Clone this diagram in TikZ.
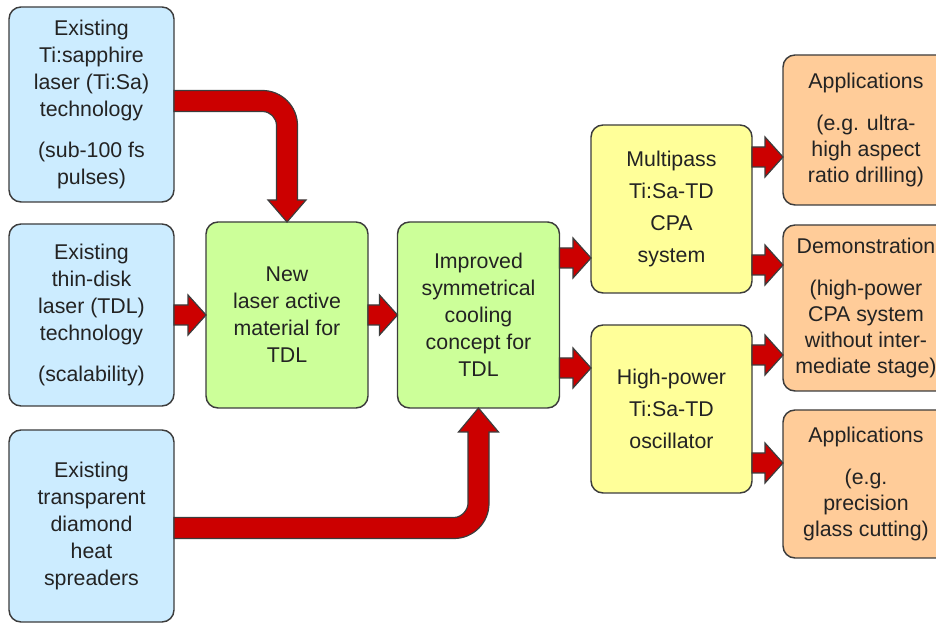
\documentclass[tikz,border=0pt]{standalone}
\usepackage{fontspec}
\setmainfont{Liberation Sans}
\usetikzlibrary{positioning, calc}

\definecolor{oldblue}{RGB}{204,236,255}
\definecolor{newgreen}{RGB}{204,255,153}
\definecolor{sysyellow}{RGB}{255,255,153}
\definecolor{useorange}{RGB}{255,204,153}
\definecolor{arrowred}{RGB}{204,0,0}
\definecolor{boxline}{RGB}{60,60,60}
\definecolor{textgray}{RGB}{35,35,35}

\tikzset{
	techbox/.style={draw=boxline, line width=1.1pt, rounded corners=9pt,
		align=center, inner sep=2pt, outer sep=0pt, text=textgray,
		font=\fontsize{16}{20.25}\selectfont},
	oldtech/.style={techbox, fill=oldblue, minimum width=123.75pt},
	newtech/.style={techbox, fill=newgreen, minimum width=121.5pt, minimum height=139.5pt},
	system/.style={techbox, fill=sysyellow, minimum width=120.75pt, minimum height=126pt,
		font=\fontsize{16}{24}\selectfont},
	usage/.style={techbox, fill=useorange, minimum width=124.5pt,
		font=\fontsize{16}{19.5}\selectfont},
	redarrow/.style={draw=boxline, fill=arrowred, line width=0.9pt, line join=miter}
}

% straight block arrow: from #1 to #2, shifted by #3 (same y on both ends)
\newcommand{\blockarrow}[3]{%
	\draw[redarrow] ($(#1 |- #2)+(0,#3-10)$) -- ($(#2)+(-18,#3-10)$)
	-- ($(#2)+(-18,#3-20)$) -- ($(#2)+(0,#3)$) -- ($(#2)+(-18,#3+20)$)
	-- ($(#2)+(-18,#3+10)$) -- ($(#1 |- #2)+(0,#3+10)$) -- cycle;}

\begin{document}
\begin{tikzpicture}[x=0.75pt, y=-0.75pt]
	\useasboundingbox (0,0) rectangle (936,623);
	
	% Existing technology
	\node[oldtech, minimum height=146.25pt] (sapphire) at (91.5,104.5)
	{Existing\\Ti:sapphire\\laser (Ti:Sa)\\technology\\[11pt](sub-100 fs\\pulses)};
	\node[oldtech, minimum height=136.5pt] (thindisk) at ($(sapphire) + (0,210.5)$)
	{Existing\\thin-disk\\laser (TDL)\\technology\\[11pt](scalability)};
	\node[oldtech, minimum height=144pt] (diamond) at ($(sapphire) + (0,421.5)$)
	{Existing\\transparent\\diamond\\heat\\spreaders};
	
	% New developments
	\node[newtech] (material) at ($(sapphire) + (195.5,210.5)$)
	{New\\laser active\\material for\\TDL};
	\node[newtech] (cooling) at ($(sapphire) + (387,210.5)$)
	{Improved\\symmetrical\\cooling\\concept for\\TDL};
	
	% Systems
	\node[system] (multipass) at ($(sapphire) + (580,104.5)$)
	{Multipass\\Ti:Sa-TD\\CPA\\system};
	\node[system] (oscillator) at ($(sapphire) + (580,304.5)$)
	{High-power\\Ti:Sa-TD\\oscillator};
	
	% Applications
	\node[usage, minimum height=112.5pt] (drilling) at ($(sapphire) + (774.5,25.5)$)
	{Applications\\[12pt](e.g. ultra-\\high aspect\\ratio drilling)};
	\node[usage, minimum height=124.5pt] (demo) at ($(sapphire) + (774.5,203.5)$)
	{Demonstration\\[12pt](high-power\\CPA system\\without inter-\\mediate stage)};
	\node[usage, minimum height=111pt] (cutting) at ($(sapphire) + (774.5,379.5)$)
	{Applications\\[12pt](e.g.\\precision\\glass cutting)};
	
	% Connections
	\draw[redarrow] ($(sapphire.east)+(0,-14)$)
	-- ($(material.north |- sapphire.east)+(-24.5,-14)$)
	.. controls ($(material.north |- sapphire.east)+(-5.25,-14)$)
	and ($(material.north |- sapphire.east)+(10.5,1.75)$)
	.. ($(material.north |- sapphire.east)+(10.5,21)$)
	-- ($(material.north)+(10.5,-22)$) -- ($(material.north)+(19,-22)$)
	-- (material.north) -- ($(material.north)+(-19,-22)$)
	-- ($(material.north)+(-10.5,-22)$)
	-- ($(material.north |- sapphire.east)+(-10.5,21)$)
	.. controls ($(material.north |- sapphire.east)+(-10.5,13.3)$)
	and ($(material.north |- sapphire.east)+(-16.8,7)$)
	.. ($(material.north |- sapphire.east)+(-24.5,7)$)
	-- ($(sapphire.east)+(0,7)$) -- cycle;
	
	\draw[redarrow] ($(diamond.east)+(0,-8.5)$)
	-- ($(cooling.south |- diamond.east)+(-24.5,-8.5)$)
	.. controls ($(cooling.south |- diamond.east)+(-16.8,-8.5)$)
	and ($(cooling.south |- diamond.east)+(-10.5,-16.2)$)
	.. ($(cooling.south |- diamond.east)+(-10.5,-22.5)$)
	-- ($(cooling.south)+(-10.5,24)$) -- ($(cooling.south)+(-20,24)$)
	-- (cooling.south) -- ($(cooling.south)+(20,24)$)
	-- ($(cooling.south)+(10.5,24)$)
	-- ($(cooling.south |- diamond.east)+(10.5,-22.5)$)
	.. controls ($(cooling.south |- diamond.east)+(10.5,-3.25)$)
	and ($(cooling.south |- diamond.east)+(-5.25,12.5)$)
	.. ($(cooling.south |- diamond.east)+(-24.5,12.5)$)
	-- ($(diamond.east)+(0,12.5)$) -- cycle;
	
	\blockarrow{thindisk.east}{material.west}{0}
	\blockarrow{material.east}{cooling.west}{0}
	\blockarrow{cooling.east}{multipass.west}{49}
	\blockarrow{cooling.east}{oscillator.west}{-41}
	\blockarrow{multipass.east}{drilling.west}{27}
	\blockarrow{multipass.east}{demo.west}{-43}
	\blockarrow{oscillator.east}{demo.west}{47}
	\blockarrow{oscillator.east}{cutting.west}{-21}
\end{tikzpicture}
\end{document}
